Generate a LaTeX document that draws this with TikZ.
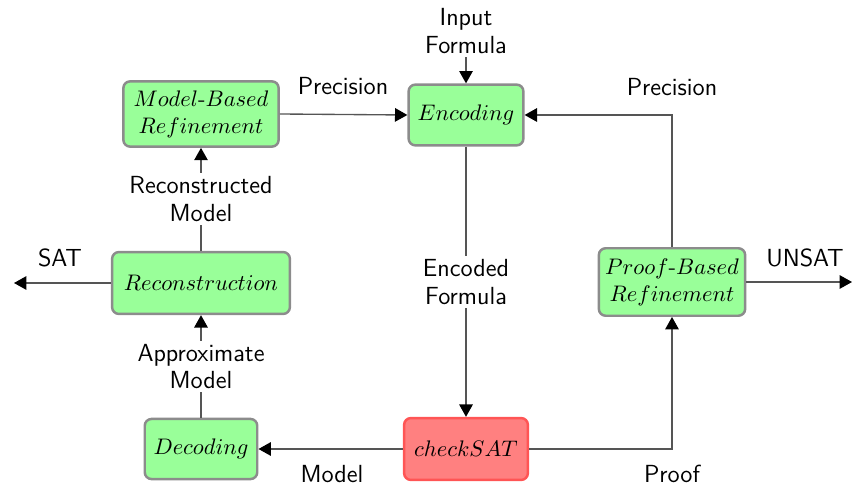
\documentclass[tikz,border=0pt]{standalone}
\usetikzlibrary{arrows.meta}
\definecolor{boxgreen}{HTML}{99FF99}
\definecolor{boxred}{HTML}{FF8080}
\definecolor{redline}{HTML}{FF5555}
\definecolor{wire}{HTML}{555555}
\begin{document}
\begin{tikzpicture}[x=0.4444pt,y=-0.4444pt,
  stage/.style={draw=gray!90, line width=1.1pt, fill=boxgreen, rounded corners=3pt,
    align=center, inner sep=1pt},
  failstage/.style={stage, draw=redline, fill=boxred},
  lbl/.style={font=\sffamily\fontsize{11}{12.3}\selectfont, align=center, fill=white, inner sep=1.5pt},
  flow/.style={draw=wire, line width=0.6pt, -{Triangle[length=5.5pt,width=6pt,fill=black,color=black]}},
  plain/.style={draw=wire, line width=0.6pt}]
\useasboundingbox (0,0) rectangle (852,487);

% processing stages
\node[stage, minimum width=69pt, minimum height=29pt] (mbr) at (201,114) {$Model$-$Based$\\$Refinement$};
\node[stage, minimum width=51pt, minimum height=27pt] (enc) at (466,115) {$Encoding$};
\node[stage, minimum width=79pt, minimum height=27.5pt] (rec) at (201,283) {$Reconstruction$};
\node[stage, minimum width=65pt, minimum height=30pt] (pbr) at (672,282) {$Proof$-$Based$\\$Refinement$};
\node[failstage, minimum width=55pt, minimum height=27.5pt] (chk) at (466,449) {$checkSAT$};
\node[stage, minimum width=50pt, minimum height=26.7pt] (dec) at (201,449) {$Decoding$};

% inputs and outputs
\node[lbl] (inp) at (466,31) {Input\\Formula};
\coordinate (satend) at (14,283);
\coordinate (unsatend) at (852,282);
\coordinate (pcorner) at (672,115);
\coordinate (qcorner) at (672,449);

% free-standing labels
\node[lbl] (lprecl) at (343,86) {Precision};
\node[lbl] (lprecr) at (672,87) {Precision};
\node[lbl] (lsat) at (60,258) {SAT};
\node[lbl] (lunsat) at (805,258) {UNSAT};
\node[lbl] (lmodel) at (332,474) {Model};
\node[lbl] (lproof) at (672,474) {Proof};

% connectors
\draw[flow] (inp) -- (enc);
\draw[flow] (mbr.east) -- (enc.west);
\draw[flow] (pbr.north) -- (pcorner) -- (enc.east);
\draw[flow] (enc) -- node[lbl] {Encoded\\Formula} (chk);
\draw[flow] (chk) -- (dec);
\draw[flow] (chk.east) -- (qcorner) -- (pbr.south);
\draw[flow] (dec) -- node[lbl] {Approximate\\Model} (rec);
\draw[flow] (rec) -- node[lbl] {Reconstructed\\Model} (mbr);
\draw[flow] (rec.west) -- (satend);
\draw[flow] (pbr.east) -- (unsatend);
\end{tikzpicture}
\end{document}
